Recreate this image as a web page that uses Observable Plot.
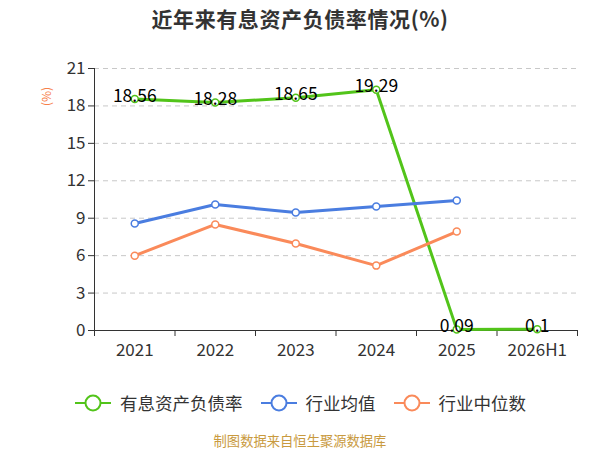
<!DOCTYPE html>
<html>
<head>
<meta charset="utf-8">
<script src="https://cdn.jsdelivr.net/npm/d3@7"></script>
<script src="https://cdn.jsdelivr.net/npm/@observablehq/plot@0.6"></script>
<style>
  html, body { margin: 0; padding: 0; background: #fff; }
  body { width: 600px; height: 450px; font-family: "Noto Sans CJK SC", "Noto Sans", sans-serif; position: relative; overflow: hidden; }
  #title { position: absolute; top: 3px; left: 0; width: 600px; text-align: center; font-size: 21px; letter-spacing: 0.6px; font-weight: bold; color: #333; line-height: 30px; }
  #chart { position: absolute; top: 40px; left: 0; }
  #legend { position: absolute; top: 389px; left: 0; width: 600px; display: flex; justify-content: center; gap: 17px; font-size: 17.5px; color: #333; line-height: 28px; }
  #legend .item { display: flex; align-items: center; gap: 8px; }
  #footer { position: absolute; top: 430px; left: 0; width: 600px; text-align: center; font-size: 13.3px; color: #c99a3e; line-height: 22px; }
  #unit { position: absolute; left: 36px; top: 88px; color: #f7804a; font-size: 12px; transform: rotate(-90deg); transform-origin: center; }
</style>
</head>
<body>
<div id="title">近年来有息资产负债率情况(%)</div>
<div id="chart"></div>
<div id="unit">(%)</div>
<div id="legend"></div>
<div id="footer">制图数据来自恒生聚源数据库</div>
<script>
const categories = ["2021", "2022", "2023", "2024", "2025", "2026H1"];
const seriesNames = ["有息资产负债率", "行业均值", "行业中位数"];
const seriesColors = ["#52c41a", "#4a7de0", "#fa8a5a"];
const debtRatio = [18.56, 18.28, 18.65, 19.29, 0.09, 0.1];
const industryMean = [8.57, 10.1, 9.45, 9.94, 10.42, null];
const industryMedian = [6.0, 8.5, 6.97, 5.2, 7.93, null];
const yTicks = [0, 3, 6, 9, 12, 15, 18, 21];

const rows = [];
[debtRatio, industryMean, industryMedian].forEach((vals, s) => {
  vals.forEach((v, i) => {
    if (v != null) rows.push({series: seriesNames[s], cat: categories[i], idx: i + 0.5, value: v});
  });
});
const labelRows = rows.filter(d => d.series === seriesNames[0]);
const boundaries = d3.range(categories.length + 1);
const centers = categories.map((c, i) => i + 0.5);

const chart = Plot.plot({
  width: 600,
  height: 340,
  marginLeft: 94,
  marginRight: 23,
  marginTop: 28,
  marginBottom: 50,
  style: {fontFamily: '"Noto Sans CJK SC", "Noto Sans", sans-serif', fontSize: "17px", color: "#333", background: "transparent"},
  x: {type: "linear", domain: [0, categories.length]},
  y: {domain: [0, 21]},
  color: {domain: seriesNames, range: seriesColors},
  marks: [
    Plot.gridY(yTicks, {stroke: "#c8c8c8", strokeOpacity: 1, strokeDasharray: "5,4", strokeWidth: 1}),
    Plot.ruleY([0], {stroke: "#333", strokeWidth: 1}),
    Plot.ruleX([0], {stroke: "#333", strokeWidth: 1}),
    Plot.axisY(yTicks, {tickSize: 6, tickPadding: 3, fontSize: 17, color: "#333", label: null}),
    Plot.axisX(boundaries, {tickSize: 6, tickFormat: () => "", color: "#333", label: null}),
    Plot.axisX(centers, {tickSize: 0, tickPadding: 13, fontSize: 17, color: "#333", tickFormat: (d) => categories[Math.round(d - 0.5)], label: null}),
    Plot.line(rows, {x: "idx", y: "value", z: "series", stroke: "series", strokeWidth: 3}),
    Plot.dot(rows, {x: "idx", y: "value", stroke: "series", fill: "white", r: 3.5, strokeWidth: 1.5}),
    Plot.text(labelRows, {x: "idx", y: "value", text: d => String(d.value), fill: "#000", fontSize: 17.5, dy: -3})
  ]
});
document.getElementById("chart").appendChild(chart);

const legend = document.getElementById("legend");
seriesNames.forEach((name, i) => {
  const item = document.createElement("div");
  item.className = "item";
  item.innerHTML = `<svg width="38" height="20"><line x1="1" y1="10" x2="37" y2="10" stroke="${seriesColors[i]}" stroke-width="2"/><circle cx="19" cy="10" r="7.5" fill="white" stroke="${seriesColors[i]}" stroke-width="2"/></svg><span>${name}</span>`;
  legend.appendChild(item);
});
</script>
</body>
</html>
